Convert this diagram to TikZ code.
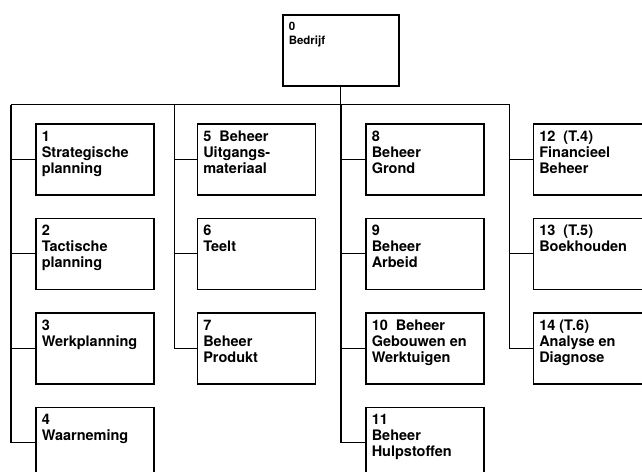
\documentclass[tikz,border=0pt]{standalone}
\usepackage{fontspec}
\setmainfont{TeX Gyre Heros}
\usetikzlibrary{positioning,calc}

\newcommand\blok[1]{\parbox[t][57pt][t]{106pt}{#1}}

\begin{document}
\begin{tikzpicture}[
  x=1pt, y=-1pt,
  node distance=22pt and 42pt,
  box/.style={draw, line width=1.5pt, rectangle, inner xsep=6pt, inner ysep=7pt,
    font=\bfseries\fontsize{14.5}{16}\selectfont},
  link/.style={line width=1.4pt}
]
\clip (0,0) rectangle (642,471);

% top
\node[box, anchor=north west, font=\bfseries\fontsize{11.5}{14}\selectfont] (f0) at (282,14)
  {\parbox[t][57pt][t]{104pt}{0\\Bedrijf}};

% column 1
\node[box, anchor=north west] (f1) at (35,123) {\blok{1\\Strategische\\planning}};
\node[box, below=of f1] (f2) {\blok{2\\Tactische\\planning}};
\node[box, below=of f2] (f3) {\blok{3\\Werkplanning}};
\node[box, below=of f3] (f4) {\blok{4\\Waarneming}};

% column 2
\node[box, right=of f1] (f5) {\blok{5~~Beheer\\Uitgangs-\\materiaal}};
\node[box, below=of f5] (f6) {\blok{6\\Teelt}};
\node[box, below=of f6] (f7) {\blok{7\\Beheer\\Produkt}};

% column 3
\node[box, right=49pt of f5] (f8) {\blok{8\\Beheer\\Grond}};
\node[box, below=of f8] (f9) {\blok{9\\Beheer\\Arbeid}};
\node[box, below=of f9] (f10) {\blok{10~~Beheer\\Gebouwen en\\Werktuigen}};
\node[box, below=of f10] (f11) {\blok{11\\Beheer\\Hulpstoffen}};

% column 4
\node[box, right=48pt of f8] (f12) {\blok{12~~(T.4)\\Financieel\\Beheer}};
\node[box, below=of f12] (f13) {\blok{13~~(T.5)\\Boekhouden}};
\node[box, below=of f13] (f14) {\blok{14 (T.6)\\Analyse en\\Diagnose}};

% lines
\coordinate (bus) at ([yshift=-18pt]f0.south);
\coordinate (c1) at ([xshift=-24pt]f1.west |- bus);
\coordinate (c2) at ([xshift=-22pt]f5.west |- bus);
\coordinate (c3) at ([xshift=-24pt]f8.west |- bus);
\coordinate (c4) at ([xshift=-23pt]f12.west |- bus);

\draw[link] (f0.south) -- (bus);
\draw[link] (c1) -- (c4);
\foreach \k in {1,...,4} \draw[link] (c1) |- (f\k.west);
\foreach \k in {5,6,7} \draw[link] (c2) |- (f\k.west);
\foreach \k in {8,...,11} \draw[link] (c3) |- (f\k.west);
\foreach \k in {12,13,14} \draw[link] (c4) |- (f\k.west);
\end{tikzpicture}
\end{document}
